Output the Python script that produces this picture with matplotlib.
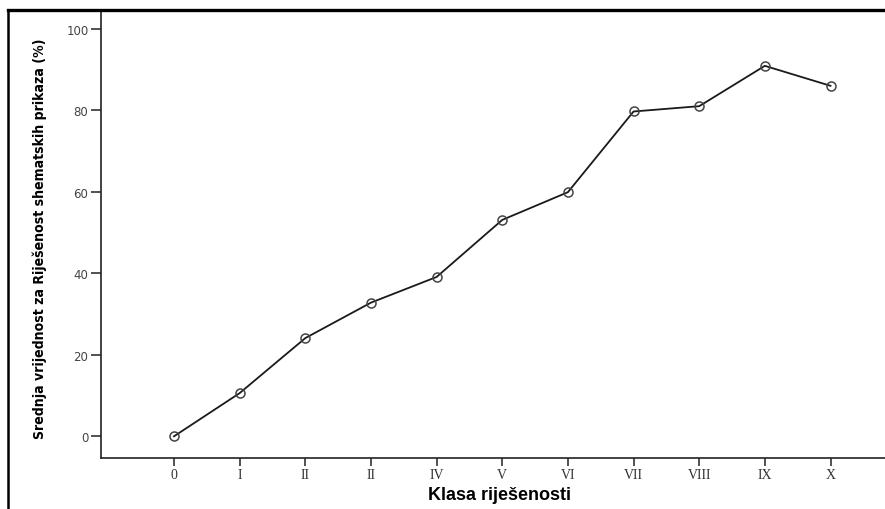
import matplotlib
matplotlib.use("Agg")
import matplotlib.pyplot as plt
from matplotlib.lines import Line2D

categories = ["0", "I", "II", "II", "IV", "V", "VI", "VII", "VIII", "IX", "X"]
values = [0.0, 10.6, 24.1, 32.8, 39.1, 53.1, 59.9, 79.7, 81.0, 90.9, 86.0]
y_ticks = [0, 20, 40, 60, 80, 100]

W, H = 885, 510
fig = plt.figure(figsize=(W / 100, H / 100), dpi=100)
ax = fig.add_axes([101 / W, 1 - 459 / H, (W - 101) / W, (459 - 11) / H])

x = list(range(len(categories)))
ax.plot(x, values, color="#1a1a1a", lw=1.3, marker="o", ms=6.5,
        mfc="none", mec="#444444", mew=1.1, zorder=3)

ax.set_xlim(-1.112, 10.83)
ax.set_ylim(-5.32, 104.6)
ax.set_xticks(x)
ax.set_xticklabels(categories, family=["Liberation Serif", "DejaVu Serif"],
                   fontsize=10, color="#333333")
ax.set_yticks(y_ticks)
ax.set_yticklabels([str(v) for v in y_ticks], family="DejaVu Sans",
                   fontsize=8.5, color="#444444")
ax.tick_params(axis="x", direction="out", length=6, width=1.2,
               color="#333333", pad=1)
ax.tick_params(axis="y", direction="out", length=7, width=1.2,
               color="#333333", pad=2)

for s in ["top", "right"]:
    ax.spines[s].set_visible(False)
for s in ["left", "bottom"]:
    ax.spines[s].set_linewidth(1.2)
    ax.spines[s].set_color("#222222")

fig.text(500 / W, 1 - 496 / H, "Klasa riješenosti",
         family=["Liberation Sans", "DejaVu Sans"], fontweight="bold",
         fontsize=13, ha="center", va="center")

ylab = fig.text(40 / W, 1 - 239 / H,
                "Srednja vrijednost za Riješenost shematskih prikaza (%)",
                family=["DejaVu Sans"], fontstretch="condensed",
                fontweight="bold", fontsize=12, rotation=90,
                ha="center", va="center")
# fit the label's length to the reference (about 400 px)
fig.canvas.draw()
r = fig.canvas.get_renderer()
h = ylab.get_window_extent(r).height
ylab.set_fontsize(12 * 400 / h)

# outer frame
fig.add_artist(Line2D([8 / W, 8 / W], [0, 1 - 11 / H], transform=fig.transFigure,
                      color="black", lw=1.8))
fig.add_artist(Line2D([8 / W, 1], [1 - 11 / H, 1 - 11 / H], transform=fig.transFigure,
                      color="black", lw=2.4))

fig.savefig("out.png", dpi=100)
